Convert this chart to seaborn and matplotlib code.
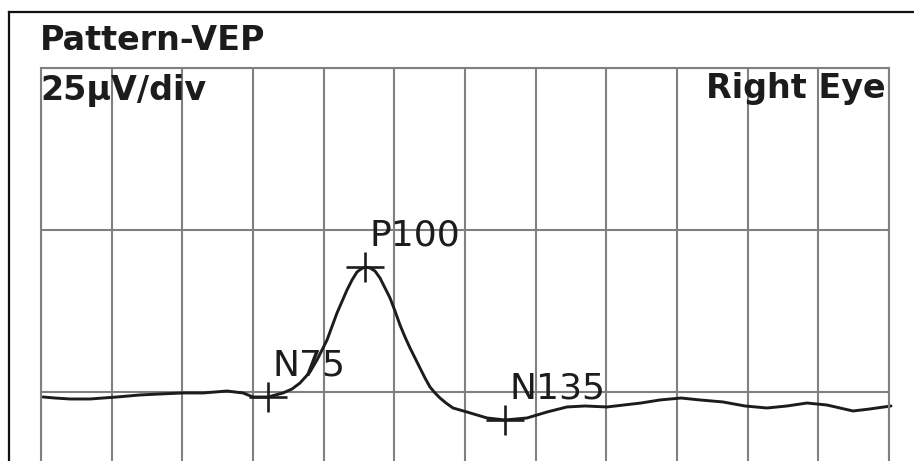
import numpy as np
import matplotlib
matplotlib.use("Agg")
import matplotlib.pyplot as plt
import seaborn as sns

# ---- data ----
time_ms = [0.59, 4.13, 8.55, 14.45, 22.41, 29.19, 35.08, 41.86, 47.76, 54.83,
           59.55, 62.50, 65.45, 66.92, 71.34, 74.0, 76.36, 79.30, 81.37, 84.32, 87.26,
           90.21, 91.69, 93.16, 94.34, 95.52, 96.99, 98.47, 99.94, 101.42, 102.89,
           104.36, 105.84, 107.31, 108.79, 110.26, 111.73, 113.21, 114.68, 116.16,
           117.63, 119.40, 121.46, 123.53, 125.59, 131.49, 136.79, 143.28, 149.17,
           155.07, 160.38, 166.86, 176.89, 182.49, 188.68, 194.28, 201.06, 207.55,
           214.03, 219.93, 225.83, 231.72, 235.55, 239.39, 244.40, 250.59]
amp_uv = [-0.77, -0.93, -1.08, -1.08, -0.77, -0.46, -0.31, -0.15, -0.15, 0.15,
          -0.15, -0.77, -0.77, -0.77, -0.15, 0.46, 1.39, 3.09, 4.94, 8.02, 12.19,
          15.74, 17.28, 18.52, 18.98, 19.29, 19.14, 18.67, 17.59, 16.05, 14.51,
          12.50, 10.34, 8.49, 6.79, 5.25, 3.70, 2.16, 0.77, -0.15,
          -0.93, -1.70, -2.47, -2.78, -3.09, -4.01, -4.32, -4.01, -3.09,
          -2.31, -2.16, -2.31, -1.70, -1.23, -0.93, -1.23, -1.54, -2.16,
          -2.47, -2.16, -1.70, -2.01, -2.47, -2.93, -2.62, -2.16]

peak_names = ["N75", "P100", "N135"]
peak_ms = [66.9, 95.5, 136.8]
peak_uv = [-0.77, 19.29, -4.32]

grid_ms = np.linspace(0, 250, 13)   # 12 time divisions
grid_uv = [0, 25, 50]               # 25 µV/div

title_text = "Pattern-VEP"
scale_text = "25µV/div"
eye_text = "Right Eye"
trace_id = "1"

# ---- style ----
sns.set_theme(style="white")
plt.rcParams["font.family"] = ["DejaVu Sans"]

ink = "#1c1c1c"
gridc = "#808080"

fig = plt.figure(figsize=(9.14, 4.61), dpi=100, facecolor="white")

# outer frame (left and top edges visible, continues beyond the picture)
frame = fig.add_axes([9 / 914, -0.2, 1.0, 1 - 12 / 461 + 0.2])
frame.set_xticks([])
frame.set_yticks([])
frame.set_facecolor("white")
for s in ["right", "bottom"]:
    frame.spines[s].set_visible(False)
for s in ["left", "top"]:
    frame.spines[s].set_color("#111111")
    frame.spines[s].set_linewidth(1.6)

# grid box
ax = fig.add_axes([41 / 914, 0, 848 / 914, (461 - 68) / 461])
ax.set_facecolor("none")
ax.set_xlim(0, 250)
ax.set_ylim(-10.65, 50)
ax.set_xticks(grid_ms)
ax.set_yticks(grid_uv)
ax.tick_params(length=0, labelbottom=False, labelleft=False)
ax.set_axisbelow(True)
ax.grid(True, color=gridc, lw=1.5)
ax.spines["bottom"].set_visible(False)
for s in ["top", "left", "right"]:
    ax.spines[s].set_color(gridc)
    ax.spines[s].set_linewidth(1.5)

# trace
sns.lineplot(x=time_ms, y=amp_uv, ax=ax, color=ink, lw=2.1, clip_on=False,
             solid_joinstyle="round", solid_capstyle="round")

# peak markers
ax.errorbar(peak_ms, peak_uv, xerr=5.5, yerr=2.3, fmt="none", ecolor=ink,
            elinewidth=1.9, capsize=0, clip_on=False, zorder=4)

for name, px, py in zip(peak_names, peak_ms, peak_uv):
    ax.annotate(name, xy=(px, py), xytext=(3, 15.8), textcoords="offset points",
                ha="left", va="baseline", fontsize=26, color=ink, zorder=5)

# trace number at the right end
ax.annotate(trace_id, xy=(time_ms[-1], amp_uv[-1]), xytext=(-9.4, 6.5),
            textcoords="offset points", ha="right", va="baseline",
            fontsize=20, fontweight="bold", color=ink)

# header texts
ax.text(-0.3, 52.8, title_text, ha="left", va="baseline", fontsize=24,
        fontweight="bold", color=ink)
ax.text(-0.3, 45.06, scale_text, ha="left", va="baseline", fontsize=24,
        fontweight="bold", color=ink)
ax.text(249.1, 45.4, eye_text, ha="right", va="baseline", fontsize=24,
        fontweight="bold", color=ink)

fig.savefig("out.png", dpi=100, facecolor="white")
